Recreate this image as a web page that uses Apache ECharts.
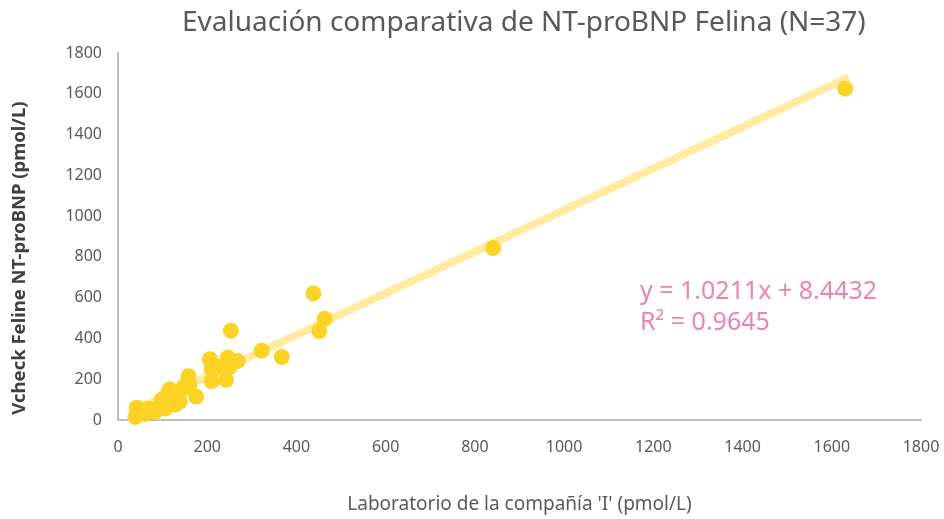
<!DOCTYPE html>
<html><head><meta charset="utf-8">
<script src="https://cdn.jsdelivr.net/npm/echarts@6/dist/echarts.min.js"></script>
<style>html,body{margin:0;padding:0;background:#fff;width:100%;height:100%;overflow:hidden}#c{width:100vw;height:100vh}</style>
</head><body><div id="c"></div>
<script>
const titleText = "Evaluación comparativa de NT-proBNP Felina (N=37)";
const xName = "Laboratorio de la compañía 'I' (pmol/L)";
const yName = "Vcheck Feline NT-proBNP (pmol/L)";
const labX = [1630,841,438,463,451,367,322,253,206,246,268,250,210,210,242,158,150,175,160,116,98,128,106,80,46,39,42,69,91,113,113,143,138,83,54,230,60];
const vcheckY = [1625,843,621,496,436,309,340,438,298,306,289,260,252,190,197,215,168,115,172,150,100,75,56,48,56,15,60,55,60,135,82,150,90,40,38,262,30];
const slope = 1.0211, intercept = 8.4432, r2 = 0.9645;
const xMin = Math.min(...labX) - 10, xMax = Math.max(...labX) + 8;
const trend = [[xMin, slope*xMin+intercept],[xMax, slope*xMax+intercept]];
const pts = labX.map((x,i)=>[x, vcheckY[i]]);
const font = "'Noto Sans','Open Sans',sans-serif";
const chart = echarts.init(document.getElementById('c'));
chart.setOption({
  animation:false,
  title:{text:titleText,left:177,top:4,textStyle:{fontFamily:font,fontWeight:'normal',fontSize:28,color:'#595959'}},
  grid:{left:118,right:23,top:53,bottom:99,containLabel:false,outerBoundsMode:'none'},
  xAxis:{type:'value',min:0,max:1800,interval:200,name:xName,nameLocation:'middle',nameGap:75,
    nameTextStyle:{fontFamily:font,fontSize:19,color:'#595959'},
    axisLine:{lineStyle:{color:'#BFBFBF',width:2}},axisTick:{show:false},splitLine:{show:false},
    axisLabel:{fontFamily:font,fontSize:16,color:'#595959',margin:19,formatter:v=>String(v)}},
  yAxis:{type:'value',min:0,max:1800,interval:200,
    axisLine:{show:true,lineStyle:{color:'#BFBFBF',width:2}},axisTick:{show:false},splitLine:{show:false},
    axisLabel:{fontFamily:font,fontSize:16,color:'#595959',margin:16,formatter:v=>String(v)}},
  graphic:[
    {type:'text',x:20,y:258,rotation:Math.PI/2,style:{text:yName,fontFamily:font,fontSize:18.5,fontWeight:'bold',fill:'#404040',align:'center',verticalAlign:'middle'}},
    {type:'text',left:640,top:279,style:{text:'y = 1.0211x + 8.4432',fontFamily:font,fontSize:25,fill:'#EE82B4'}},
    {type:'text',left:640,top:310,style:{text:'R² = '+r2.toFixed(4),fontFamily:font,fontSize:25,fill:'#EE82B4'}}
  ],
  series:[
    {type:'line',data:trend,symbol:'none',lineStyle:{color:'#FFEBA0',width:8},z:1,silent:true},
    {type:'scatter',data:pts,symbolSize:16,itemStyle:{color:'#FDD323',opacity:1},z:2}
  ]
});
</script></body></html>
